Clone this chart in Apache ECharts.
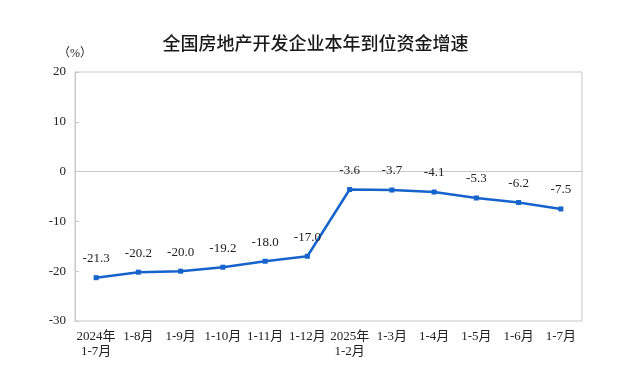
<!DOCTYPE html>
<html><head><meta charset="utf-8">
<script src="https://cdn.jsdelivr.net/npm/echarts@6/dist/echarts.min.js"></script>
<style>html,body{margin:0;padding:0;background:#fff}#c{width:631px;height:383px}</style>
</head><body><div id="c"></div>
<script>
const categories = ['2024年\n1-7月','1-8月','1-9月','1-10月','1-11月','1-12月','2025年\n1-2月','1-3月','1-4月','1-5月','1-6月','1-7月'];
const values = [-21.3,-20.2,-20.0,-19.2,-18.0,-17.0,-3.6,-3.7,-4.1,-5.3,-6.2,-7.5];
const yTicks = [-30,-20,-10,0,10,20];
const serif = '"Liberation Serif","Times New Roman","Noto Sans CJK SC",serif';
const chart = echarts.init(document.getElementById('c'));
chart.setOption({
  animation:false,
  title:{text:'全国房地产开发企业本年到位资金增速',left:'center',top:29,
    textStyle:{fontFamily:'"Noto Sans CJK SC",sans-serif',fontSize:18,fontWeight:500,color:'#1a1a1a'}},
  grid:{left:75,right:49,top:72,bottom:62,show:true,borderColor:'#c8c8c8',borderWidth:1},
  xAxis:{type:'category',data:categories,boundaryGap:true,
    axisLine:{lineStyle:{color:'#c8c8c8'}},
    axisTick:{inside:true,length:5,lineStyle:{color:'#c8c8c8'}},
    axisLabel:{fontFamily:serif,fontSize:13,color:'#222',margin:8,lineHeight:15,interval:0}},
  yAxis:{type:'value',min:yTicks[0],max:yTicks[yTicks.length-1],interval:10,
    name:'（%）',nameLocation:'end',nameGap:12,
    nameTextStyle:{fontFamily:serif,fontSize:12,color:'#222',align:'center',padding:[0,0,0,0]},
    axisLine:{show:true,lineStyle:{color:'#c8c8c8'}},
    axisTick:{show:true,inside:true,length:4,lineStyle:{color:'#c8c8c8'}},
    splitLine:{show:false},
    axisLabel:{fontFamily:serif,fontSize:13,color:'#222',margin:9}},
  series:[{type:'line',data:values,symbol:'rect',symbolSize:5,
    lineStyle:{color:'#1763cc',width:2.5},itemStyle:{color:'#1763cc'},
    label:{show:true,position:'top',distance:10,fontFamily:serif,fontSize:13,color:'#222',
      formatter:p=>p.value.toFixed(1)}}]
});
</script></body></html>
